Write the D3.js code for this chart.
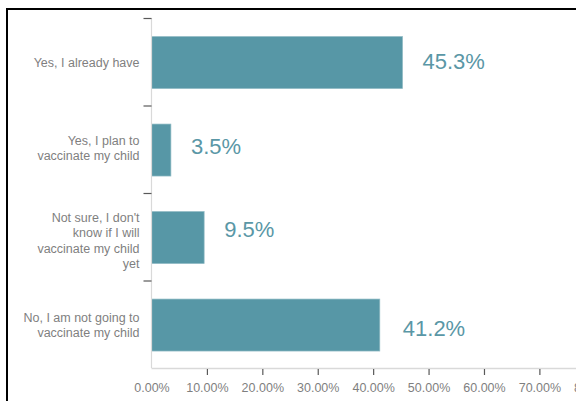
<!DOCTYPE html>
<html>
<head>
<meta charset="utf-8">
<script src="https://cdn.jsdelivr.net/npm/d3@7"></script>
<style>
  html, body { margin: 0; padding: 0; background: #ffffff; }
  svg { display: block; }
</style>
</head>
<body>
<svg id="chart" width="576" height="401"></svg>
<script>
// Survey answers, top to bottom
const categories = [
  "Yes, I already have",
  "Yes, I plan to vaccinate my child",
  "Not sure, I don't know if I will vaccinate my child yet",
  "No, I am not going to vaccinate my child"
];
// Wrapped category labels as they appear beside the axis
const categoryLines = [
  ["Yes, I already have"],
  ["Yes, I plan to", "vaccinate my child"],
  ["Not sure, I don't", "know if I will", "vaccinate my child", "yet"],
  ["No, I am not going to", "vaccinate my child"]
];
// Share of respondents (%)
const values = [45.3, 3.5, 9.5, 41.2];
// Value axis ticks (fraction of respondents)
const xTicks = [0, 0.1, 0.2, 0.3, 0.4, 0.5, 0.6, 0.7, 0.8];

const svg = d3.select("#chart");
const W = 576, H = 401;

const barColor = "#5797a6";
const labelColor = "#5a97a6";
const tickTextColor = "#7f7f7f";
const axisLineColor = "#d9d9d9";
const tickColor = "#595959";
const font = "'Liberation Sans', Arial, sans-serif";

// Hand-placed value labels sit a little off each bar's middle
const labelNudgeY = [-1, -4, -8, 3];
const labelGapX = [20, 20, 20, 23];
// Small vertical shift for the wrapped category labels
const catNudgeY = [0, -2, 3, 0];

// Plot area: the value axis runs past the right edge of the frame
const plot = { left: 151.5, top: 18, bottom: 368 };

const x = d3.scaleLinear().domain([0, 0.8]).range([plot.left, 594.8]);
const y = d3.scaleBand()
  .domain(categories)
  .range([plot.top + 0.8, plot.bottom + 0.8])
  .paddingInner(0.406)
  .paddingOuter(0.203);

// Frame lines at the top and left
svg.append("line")
  .attr("x1", 6).attr("x2", W).attr("y1", 9).attr("y2", 9)
  .attr("stroke", "#000").attr("stroke-width", 2);
svg.append("line")
  .attr("x1", 7).attr("x2", 7).attr("y1", 8).attr("y2", H)
  .attr("stroke", "#000").attr("stroke-width", 2);

// Bars
svg.append("g").selectAll("rect")
  .data(values)
  .join("rect")
  .attr("x", x(0))
  .attr("y", (d, i) => y(categories[i]))
  .attr("width", d => x(d / 100) - x(0))
  .attr("height", y.bandwidth())
  .attr("fill", barColor)
  .attr("stroke", "#8fbac4")
  .attr("stroke-width", 0.7);

// Value labels
svg.append("g").selectAll("text")
  .data(values)
  .join("text")
  .attr("x", (d, i) => x(d / 100) + labelGapX[i])
  .attr("y", (d, i) => y(categories[i]) + y.bandwidth() / 2 + labelNudgeY[i])
  .attr("dy", "0.36em")
  .attr("font-family", font)
  .attr("font-size", 22)
  .attr("fill", labelColor)
  .text(d => d.toFixed(1) + "%");

// Category axis: light line with dark ticks between categories
const yAxisG = svg.append("g");
yAxisG.append("line")
  .attr("x1", plot.left).attr("x2", plot.left)
  .attr("y1", plot.top).attr("y2", plot.bottom)
  .attr("stroke", axisLineColor).attr("stroke-width", 1.2);
const step = (plot.bottom - plot.top) / categories.length;
yAxisG.selectAll("line.tick")
  .data(d3.range(categories.length))
  .join("line")
  .attr("class", "tick")
  .attr("x1", plot.left - 8).attr("x2", plot.left)
  .attr("y1", i => plot.top + i * step + 0.5)
  .attr("y2", i => plot.top + i * step + 0.5)
  .attr("stroke", tickColor).attr("stroke-width", 1.2);

// Category labels
const lineH = 15.2;
yAxisG.selectAll("text")
  .data(categoryLines)
  .join("text")
  .attr("font-family", font)
  .attr("font-size", 12.5)
  .attr("fill", tickTextColor)
  .attr("text-anchor", "end")
  .each(function (lines, i) {
    const cy = y(categories[i]) + y.bandwidth() / 2 + catNudgeY[i];
    d3.select(this).selectAll("tspan")
      .data(lines)
      .join("tspan")
      .attr("x", plot.left - 12)
      .attr("y", (l, j) => cy + (j - (lines.length - 1) / 2) * lineH)
      .attr("dy", "0.35em")
      .text(l => l);
  });

// Value axis
const xAxisG = svg.append("g").attr("transform", `translate(0,${plot.bottom})`);
xAxisG.call(
  d3.axisBottom(x)
    .tickValues(xTicks)
    .tickFormat(d3.format(".2%"))
    .tickSize(0)
    .tickPadding(15)
);
xAxisG.select(".domain")
  .attr("d", `M${plot.left},0.5H${W + 40}`)
  .attr("stroke", axisLineColor).attr("stroke-width", 1.5);
xAxisG.selectAll(".tick").filter(d => d > 0)
  .append("line")
  .attr("y1", 1).attr("y2", 7)
  .attr("stroke", tickColor).attr("stroke-width", 1.2);
xAxisG.selectAll(".tick text")
  .attr("font-family", font)
  .attr("font-size", 12.5)
  .attr("fill", tickTextColor);
</script>
</body>
</html>
